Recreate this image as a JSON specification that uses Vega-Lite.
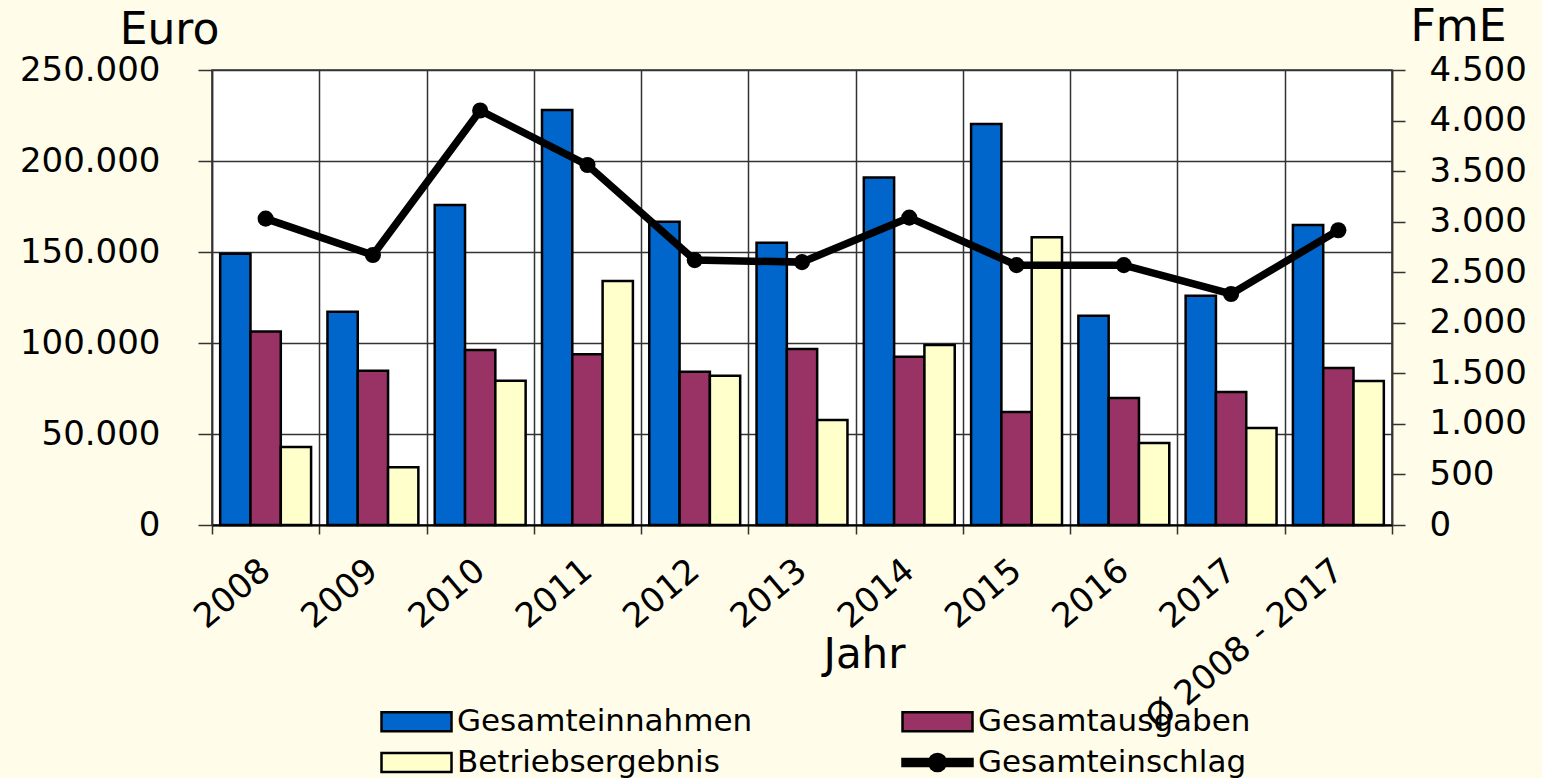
{
  "$schema": "https://vega.github.io/schema/vega-lite/v6.json",
  "width": 1180,
  "height": 455,
  "autosize": {"type": "none"},
  "padding": {"left": 212, "top": 70, "right": 150, "bottom": 253},
  "background": "#FFFCE9",
  "config": {
    "font": "DejaVu Sans",
    "view": {"fill": "white", "stroke": "#333333", "strokeWidth": 1.5}
  },
  "datasets": {
    "bars": [
      {"jahr": "2008", "serie": "Gesamteinnahmen", "wert": 149000},
      {"jahr": "2008", "serie": "Gesamtausgaben", "wert": 106300},
      {"jahr": "2008", "serie": "Betriebsergebnis", "wert": 42900},
      {"jahr": "2009", "serie": "Gesamteinnahmen", "wert": 117200},
      {"jahr": "2009", "serie": "Gesamtausgaben", "wert": 84800},
      {"jahr": "2009", "serie": "Betriebsergebnis", "wert": 31700},
      {"jahr": "2010", "serie": "Gesamteinnahmen", "wert": 175800},
      {"jahr": "2010", "serie": "Gesamtausgaben", "wert": 96200},
      {"jahr": "2010", "serie": "Betriebsergebnis", "wert": 79300},
      {"jahr": "2011", "serie": "Gesamteinnahmen", "wert": 228000},
      {"jahr": "2011", "serie": "Gesamtausgaben", "wert": 93800},
      {"jahr": "2011", "serie": "Betriebsergebnis", "wert": 134100},
      {"jahr": "2012", "serie": "Gesamteinnahmen", "wert": 166600},
      {"jahr": "2012", "serie": "Gesamtausgaben", "wert": 84200},
      {"jahr": "2012", "serie": "Betriebsergebnis", "wert": 82000},
      {"jahr": "2013", "serie": "Gesamteinnahmen", "wert": 155100},
      {"jahr": "2013", "serie": "Gesamtausgaben", "wert": 96700},
      {"jahr": "2013", "serie": "Betriebsergebnis", "wert": 57700},
      {"jahr": "2014", "serie": "Gesamteinnahmen", "wert": 191000},
      {"jahr": "2014", "serie": "Gesamtausgaben", "wert": 92500},
      {"jahr": "2014", "serie": "Betriebsergebnis", "wert": 98900},
      {"jahr": "2015", "serie": "Gesamteinnahmen", "wert": 220300},
      {"jahr": "2015", "serie": "Gesamtausgaben", "wert": 62100},
      {"jahr": "2015", "serie": "Betriebsergebnis", "wert": 158100},
      {"jahr": "2016", "serie": "Gesamteinnahmen", "wert": 115000},
      {"jahr": "2016", "serie": "Gesamtausgaben", "wert": 69800},
      {"jahr": "2016", "serie": "Betriebsergebnis", "wert": 45000},
      {"jahr": "2017", "serie": "Gesamteinnahmen", "wert": 126000},
      {"jahr": "2017", "serie": "Gesamtausgaben", "wert": 73100},
      {"jahr": "2017", "serie": "Betriebsergebnis", "wert": 53300},
      {"jahr": "Ø 2008 - 2017", "serie": "Gesamteinnahmen", "wert": 164800},
      {"jahr": "Ø 2008 - 2017", "serie": "Gesamtausgaben", "wert": 86300},
      {"jahr": "Ø 2008 - 2017", "serie": "Betriebsergebnis", "wert": 79100}
    ],
    "einschlag": [
      {"jahr": "2008", "fme": 3030},
      {"jahr": "2009", "fme": 2670},
      {"jahr": "2010", "fme": 4100},
      {"jahr": "2011", "fme": 3560},
      {"jahr": "2012", "fme": 2620},
      {"jahr": "2013", "fme": 2600},
      {"jahr": "2014", "fme": 3040},
      {"jahr": "2015", "fme": 2570},
      {"jahr": "2016", "fme": 2570},
      {"jahr": "2017", "fme": 2285},
      {"jahr": "Ø 2008 - 2017", "fme": 2915}
    ]
  },
  "layer": [
    {
      "data": {"name": "bars"},
      "mark": {"type": "bar", "stroke": "black", "strokeWidth": 2.5},
      "encoding": {
        "x": {
          "field": "jahr",
          "type": "nominal",
          "sort": null,
          "scale": {
            "domain": ["2008", "2009", "2010", "2011", "2012", "2013", "2014", "2015", "2016", "2017", "Ø 2008 - 2017"],
            "paddingInner": 0,
            "paddingOuter": 0
          },
          "axis": {
            "title": "Jahr",
            "titleFontSize": 42,
            "titleFontWeight": "normal",
            "titleColor": "black",
            "titleX": 652,
            "titleY": 142,
            "titleAlign": "center",
            "titleBaseline": "alphabetic",
            "tickBand": "extent",
            "grid": true,
            "gridColor": "#333333",
            "gridWidth": 1.5,
            "gridOpacity": 1,
            "ticks": true,
            "tickSize": 9,
            "tickColor": "#333333",
            "tickWidth": 1.5,
            "domain": true,
            "domainColor": "black",
            "domainWidth": 2,
            "labelAngle": -40,
            "labelAlign": "right",
            "labelBaseline": "middle",
            "labelFontSize": 34,
            "labelColor": "black",
            "labelPadding": 32,
            "labelLimit": 0,
            "labelOverlap": false,
            "labelBound": false
          }
        },
        "xOffset": {
          "field": "serie",
          "type": "nominal",
          "sort": null,
          "scale": {
            "domain": ["Gesamteinnahmen", "Gesamtausgaben", "Betriebsergebnis"],
            "paddingInner": 0,
            "paddingOuter": 0.27
          }
        },
        "y": {
          "field": "wert",
          "type": "quantitative",
          "scale": {"domain": [0, 250000], "nice": false, "zero": true},
          "axis": {
            "orient": "left",
            "values": [0, 50000, 100000, 150000, 200000, 250000],
            "labelExpr": "replace(format(datum.value, ','), ',', '.')",
            "title": "Euro",
            "titleAngle": 0,
            "titleFontSize": 44,
            "titleFontWeight": "normal",
            "titleColor": "black",
            "titleX": -43,
            "titleY": -27,
            "titleAlign": "center",
            "titleBaseline": "alphabetic",
            "grid": true,
            "gridColor": "#333333",
            "gridWidth": 1.5,
            "gridOpacity": 1,
            "tickSize": 14,
            "tickColor": "#333333",
            "tickWidth": 1.5,
            "domainColor": "#333333",
            "domainWidth": 1.5,
            "labelFontSize": 34,
            "labelColor": "black",
            "labelPadding": 38,
            "labelBaseline": "middle"
          }
        },
        "color": {
          "field": "serie",
          "type": "nominal",
          "scale": {
            "domain": ["Gesamteinnahmen", "Gesamtausgaben", "Betriebsergebnis", "Gesamteinschlag"],
            "range": ["#0066CC", "#993366", "#FFFFCC", "black"]
          },
          "legend": {
            "title": null,
            "orient": "none",
            "legendX": 165,
            "legendY": 636,
            "direction": "horizontal",
            "columns": 2,
            "padding": 0,
            "columnPadding": 144,
            "rowPadding": 9,
            "labelFontSize": 31,
            "labelColor": "black",
            "labelLimit": 500,
            "labelOffset": 25,
            "symbolOffset": 24,
            "symbolSize": 400,
            "symbolStrokeColor": "black",
            "symbolStrokeWidth": 2.5,
            "symbolType": "M-3.5,-0.95H3.5V0.95H-3.5Z",
            "encode": {
              "symbols": {
                "update": {
                  "shape": {"signal": "datum.value === 'Gesamteinschlag' ? 'M-3.5,-0.35H3.5V0.35H-3.5Z M-0.85,0A0.85,0.85 0 1,1 0.85,0A0.85,0.85 0 1,1 -0.85,0Z' : 'M-3.5,-0.95H3.5V0.95H-3.5Z'"},
                  "stroke": {"value": "black"},
                  "strokeWidth": {"value": 2.5},
                  "opacity": {"value": 1}
                }
              }
            }
          }
        }
      }
    },
    {
      "data": {"name": "einschlag"},
      "mark": {
        "type": "line",
        "color": "black",
        "strokeWidth": 7.5,
        "point": {"filled": true, "color": "black", "size": 260}
      },
      "encoding": {
        "x": {
          "field": "jahr",
          "type": "nominal",
          "sort": null
        },
        "y": {
          "field": "fme",
          "type": "quantitative",
          "scale": {"domain": [0, 4500], "nice": false},
          "axis": {
            "orient": "right",
            "values": [0, 500, 1000, 1500, 2000, 2500, 3000, 3500, 4000, 4500],
            "labelExpr": "replace(format(datum.value, ','), ',', '.')",
            "title": "FmE",
            "titleAngle": 0,
            "titleFontSize": 44,
            "titleFontWeight": "normal",
            "titleColor": "black",
            "titleX": 66,
            "titleY": -30,
            "titleAlign": "center",
            "titleBaseline": "alphabetic",
            "grid": false,
            "tickSize": 13,
            "tickColor": "#333333",
            "tickWidth": 1.5,
            "domainColor": "#333333",
            "domainWidth": 1.5,
            "labelFontSize": 34,
            "labelColor": "black",
            "labelPadding": 24,
            "labelBaseline": "middle"
          }
        }
      }
    }
  ],
  "resolve": {"scale": {"y": "independent"}}
}
